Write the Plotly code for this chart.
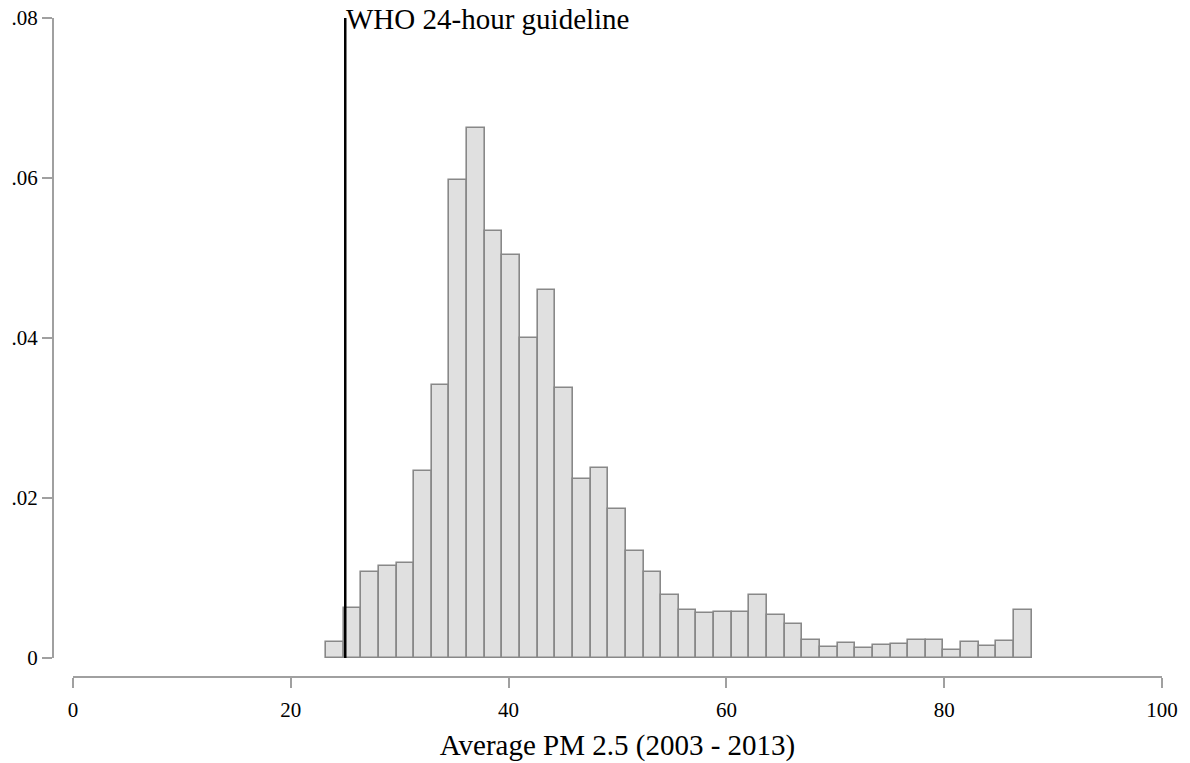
import plotly.graph_objects as go

# Histogram data (density), 40 bins
bin_start = 23.23
bin_width = 1.62
density = [0.0020, 0.0063, 0.0107, 0.0115, 0.0119, 0.0234, 0.0341, 0.0597, 0.0662, 0.0534,
           0.0504, 0.0400, 0.0460, 0.0338, 0.0224, 0.0238, 0.0186, 0.0134, 0.0108, 0.0079,
           0.0060, 0.0056, 0.0058, 0.0058, 0.0079, 0.0054, 0.0043, 0.0022, 0.0014, 0.0019,
           0.0012, 0.0016, 0.0017, 0.0022, 0.0022, 0.0010, 0.0020, 0.0015, 0.0021, 0.0060]
bin_centers = [bin_start + bin_width * (i + 0.5) for i in range(len(density))]

guideline_x = 25
guideline_label = "WHO 24-hour guideline"

x_ticks = [0, 20, 40, 60, 80, 100]
y_ticks = [0, 0.02, 0.04, 0.06, 0.08]
y_ticklabels = ["0", ".02", ".04", ".06", ".08"]

font_family = "Liberation Serif"

fig = go.Figure()
fig.add_trace(go.Bar(
    x=bin_centers, y=density, width=bin_width,
    marker=dict(color="#e0e0e0", line=dict(color="#888888", width=1.6)),
    showlegend=False, hoverinfo="x+y",
))

fig.add_shape(type="line", x0=guideline_x, x1=guideline_x, y0=-0.0003, y1=0.08,
              xref="x", yref="y", line=dict(color="black", width=2.5))
fig.add_annotation(x=guideline_x, y=0.08, xref="x", yref="y", text=guideline_label,
                   showarrow=False, xanchor="left", yanchor="middle", xshift=-1, yshift=-1,
                   font=dict(family=font_family, size=29, color="black"))

W, H = 1190, 763
ml, mr, mt, mb = 53, 28, 18, 86
pw = W - ml - mr
ph = H - mt - mb

fig.update_layout(
    width=W, height=H,
    margin=dict(l=ml, r=mr, t=mt, b=mb, pad=0, autoexpand=False),
    plot_bgcolor="white", paper_bgcolor="white",
    font=dict(family=font_family, size=21, color="black"),
    bargap=0,
    xaxis=dict(
        domain=[(73 - ml) / pw, 1], range=[0, 100], anchor="free", position=0,
        tickmode="array", tickvals=x_ticks, automargin=False,
        showline=True, linecolor="#a0a0a0", linewidth=2,
        ticks="outside", ticklen=10, tickwidth=2, tickcolor="#a0a0a0",
        ticklabelstandoff=4,
        showgrid=False, zeroline=False,
        title=dict(text="Average PM 2.5 (2003 - 2013)", font=dict(size=29), standoff=12),
        tickfont=dict(size=21),
    ),
    yaxis=dict(
        domain=[(677 - 658) / ph, 1], range=[0, 0.08], anchor="free", position=0,
        tickmode="array", tickvals=y_ticks, ticktext=y_ticklabels, automargin=False,
        showline=True, linecolor="#a0a0a0", linewidth=2,
        ticks="outside", ticklen=10, tickwidth=2, tickcolor="#a0a0a0",
        showgrid=False, zeroline=False,
        tickfont=dict(size=21),
    ),
)

fig.write_html("out.html")
